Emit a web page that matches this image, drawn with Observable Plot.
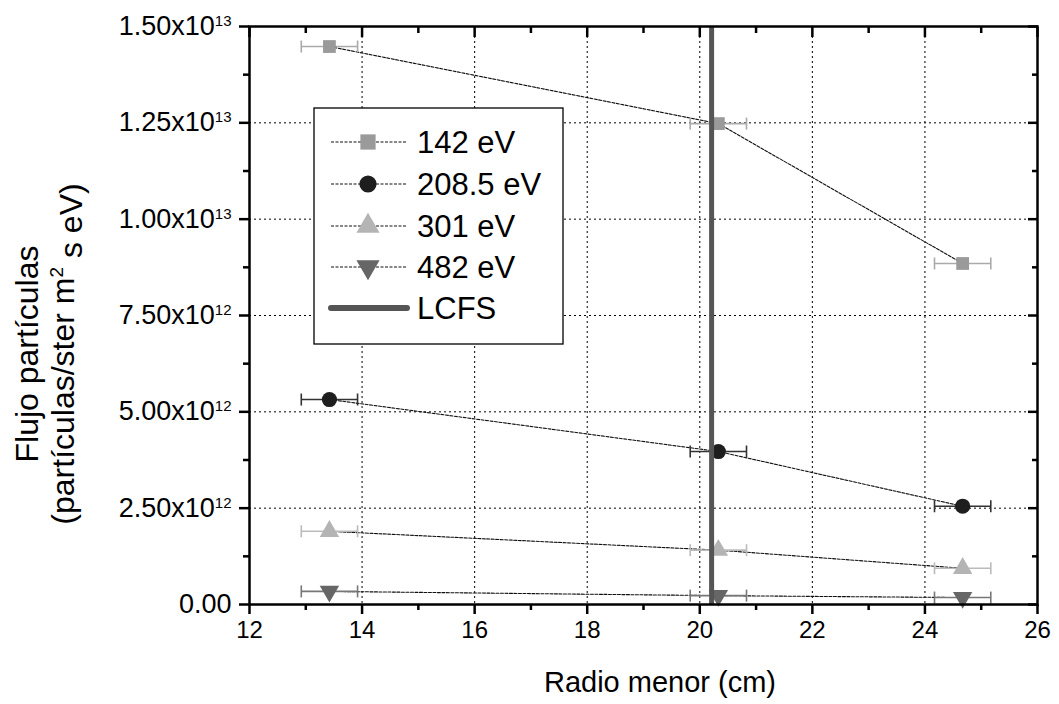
<!DOCTYPE html>
<html><head><meta charset="utf-8">
<script src="https://cdn.jsdelivr.net/npm/d3@7"></script>
<script src="https://cdn.jsdelivr.net/npm/@observablehq/plot@0.6"></script>
<style>body{margin:0;background:#fff;font-family:"Liberation Sans",Arial,sans-serif}</style>
</head><body><div id="chart"></div><script>
// ---- data ----
const radios = [13.42, 20.33, 24.67];           // cm
const xErr = [0.5, 0.5, 0.5];                    // cm
const seriesNames = ["142 eV", "208.5 eV", "301 eV", "482 eV"];
const flujo142 = [1.448e13, 1.248e13, 8.85e12];
const flujo208 = [5.32e12, 3.97e12, 2.55e12];
const flujo301 = [1.90e12, 1.41e12, 0.94e12];
const flujo482 = [3.4e11, 2.3e11, 1.8e11];
const lcfs = [20.21];
const xMajor = [12, 14, 16, 18, 20, 22, 24, 26];
const xMinor = [13, 15, 17, 19, 21, 23, 25];
const yMajor = [0, 2.5e12, 5e12, 7.5e12, 1e13, 1.25e13, 1.5e13];
const yMinor = [1.25e12, 3.75e12, 6.25e12, 8.75e12, 1.125e13, 1.375e13];
const yTickLabels = ["0.00", "2.50x10^12", "5.00x10^12", "7.50x10^12", "1.00x10^13", "1.25x10^13", "1.50x10^13"];
const xGrid = [14, 16, 18, 20, 22, 24];
const yGrid = [2.5e12, 5e12, 7.5e12, 1e13, 1.25e13];

// ---- styles per series ----
const markFill = ["#9a9a9a", "#1e1e1e", "#b4b4b4", "#666666"];
const errColor = ["#aaaaaa", "#333333", "#bbbbbb", "#777777"];
const symbols = ["square", "circle", "triangle", "triangle"];
const rotates = [0, 0, 0, 180];

const values = [flujo142, flujo208, flujo301, flujo482];
const data = [];
seriesNames.forEach((s, k) => values[k].forEach((v, i) => data.push({serie: s, k, x: radios[i], e: xErr[i], y: v})));

const cap = {draw(ctx) { ctx.moveTo(0, -6); ctx.lineTo(0, 6); }};
const dotRadius = [7.2, 7.6, 7.2, 7.2];

const marks = [
  Plot.ruleX(xGrid, {stroke: "#000", strokeWidth: 1, strokeDasharray: "2,3"}),
  Plot.ruleY(yGrid, {stroke: "#000", strokeWidth: 1, strokeDasharray: "2,3"}),
  Plot.line(data, {x: "x", y: "y", z: "serie", stroke: "#111", strokeWidth: 1.1, strokeDasharray: "3,1.5"})
];
seriesNames.forEach((s, k) => {
  const d = data.filter(r => r.k === k);
  marks.push(
    Plot.link(d, {x1: r => r.x - r.e, x2: r => r.x + r.e, y1: "y", y2: "y", stroke: errColor[k], strokeWidth: 1.6}),
    Plot.dot(d, {x: r => r.x - r.e, y: "y", symbol: cap, stroke: errColor[k], strokeWidth: 1.6, fill: "none"}),
    Plot.dot(d, {x: r => r.x + r.e, y: "y", symbol: cap, stroke: errColor[k], strokeWidth: 1.6, fill: "none"}),
    Plot.dot(d, {x: "x", y: "y", symbol: symbols[k], rotate: rotates[k], r: dotRadius[k], fill: markFill[k], stroke: "none"})
  );
});
marks.push(
  Plot.ruleX(lcfs, {stroke: "#555", strokeWidth: 5}),
  Plot.frame({stroke: "#000", strokeWidth: 2.5}),
  Plot.axisX(xMajor, {tickSize: 10, tickPadding: 9, strokeWidth: 2.5, tickFormat: () => "", label: null}),
  Plot.text(xMajor, {x: d => d, frameAnchor: "bottom", dy: 33, text: d => String(d), fontSize: 24, fill: "#000"}),
  Plot.axisX(xMinor, {tickSize: 6, strokeWidth: 2.5, tickFormat: () => "", label: null}),
  Plot.axisX(xMajor, {anchor: "top", tickSize: -10, strokeWidth: 2.5, tickFormat: () => "", label: null}),
  Plot.axisX(xMinor, {anchor: "top", tickSize: -6, strokeWidth: 2.5, tickFormat: () => "", label: null}),
  Plot.axisY(yMajor, {tickSize: 10, strokeWidth: 2.5, tickFormat: () => "", label: null}),
  Plot.text(yMajor, {y: d => d, frameAnchor: "left", dx: -18, textAnchor: "end", fontSize: 27, fill: "#000",
    text: d => yTickLabels[yMajor.indexOf(d)], ariaLabel: "y-tick-text"}),
  Plot.axisY(yMinor, {tickSize: 6, strokeWidth: 2.5, tickFormat: () => "", label: null}),
  Plot.axisY(yMajor, {anchor: "right", tickSize: -10, strokeWidth: 2.5, tickFormat: () => "", label: null}),
  Plot.axisY(yMinor, {anchor: "right", tickSize: -6, strokeWidth: 2.5, tickFormat: () => "", label: null})
);

const chart = Plot.plot({
  width: 1059, height: 704,
  marginLeft: 249, marginRight: 22, marginTop: 26, marginBottom: 100,
  x: {domain: [12, 26]},
  y: {domain: [0, 1.5e13]},
  style: {fontFamily: "'Liberation Sans', Arial, sans-serif", color: "#000", background: "#fff", overflow: "visible"},
  marks
});
document.getElementById("chart").appendChild(chart);

const svg = d3.select(chart);
// superscripts in y tick labels
svg.selectAll("text").filter(function() { return this.textContent.includes("^"); }).each(function() {
  const t = d3.select(this);
  const [m, e] = t.text().split("^");
  t.text(null);
  t.append("tspan").text(m);
  t.append("tspan").attr("dy", "-0.62em").style("font-size", "15px").text(e);
});

// axis titles
svg.append("text").attr("x", 660).attr("y", 692).attr("text-anchor", "middle")
  .style("font-size", "29px").attr("fill", "#000").text("Radio menor (cm)");
svg.append("text").attr("transform", "translate(38,354) rotate(-90)").attr("text-anchor", "middle")
  .style("font-size", "32px").attr("fill", "#000").text("Flujo partículas");
const t2 = svg.append("text").attr("transform", "translate(74,354) rotate(-90)").attr("text-anchor", "middle")
  .style("font-size", "32px").attr("fill", "#000");
t2.append("tspan").text("(partículas/ster m");
t2.append("tspan").attr("dy", "-0.6em").style("font-size", "19px").text("2");
t2.append("tspan").attr("dy", "0.6em").text(" s eV)");

// legend
const lg = svg.append("g");
lg.append("rect").attr("x", 314).attr("y", 108).attr("width", 249).attr("height", 236)
  .attr("fill", "#fff").attr("stroke", "#000").attr("stroke-width", 1.3);
const rowY = [142, 184, 226, 267, 308];
const legendLabels = [...seriesNames, "LCFS"];
legendLabels.forEach((lab, k) => {
  const cy = rowY[k];
  if (k < 4) {
    lg.append("line").attr("x1", 331).attr("x2", 407).attr("y1", cy).attr("y2", cy)
      .attr("stroke", "#111").attr("stroke-width", 1.1).attr("stroke-dasharray", "3,1.5");
    const sym = {square: d3.symbolSquare, circle: d3.symbolCircle, triangle: d3.symbolTriangle}[symbols[k]];
    const rr = 8.6;
    lg.append("path").attr("d", d3.symbol(sym, Math.PI * rr * rr)())
      .attr("transform", `translate(368,${cy}) rotate(${rotates[k]})`).attr("fill", markFill[k]);
  } else {
    lg.append("line").attr("x1", 331).attr("x2", 407).attr("y1", cy).attr("y2", cy)
      .attr("stroke", "#555").attr("stroke-width", 6).attr("stroke-linecap", "round");
  }
  lg.append("text").attr("x", 417).attr("y", cy + 11).attr("text-anchor", "start")
    .style("font-size", "31px").attr("fill", "#000").text(lab);
});
</script></body></html>
